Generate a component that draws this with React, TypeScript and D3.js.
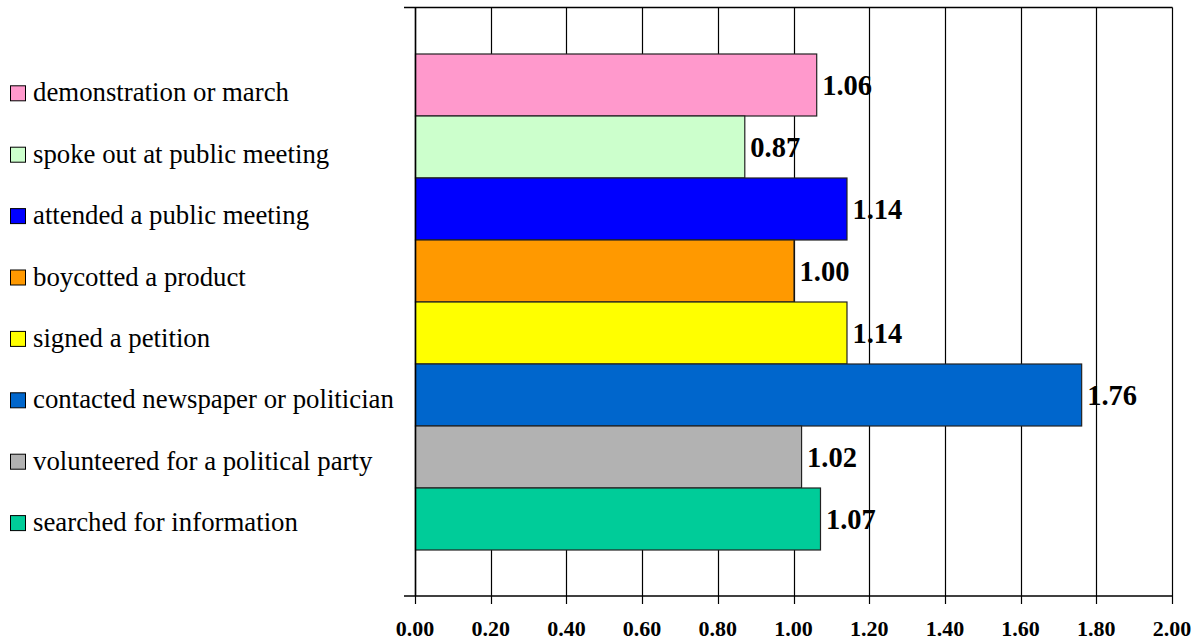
import React from "react";
import * as d3 from "d3";

// Activity ratios, listed top to bottom as drawn
const activities = [
  "demonstration or march",
  "spoke out at public meeting",
  "attended a public meeting",
  "boycotted a product",
  "signed a petition",
  "contacted newspaper or politician",
  "volunteered for a political party",
  "searched for information",
];
const ratios = [1.06, 0.87, 1.14, 1.0, 1.14, 1.76, 1.02, 1.07];
const colors = [
  "#FF99CC",
  "#CCFFCC",
  "#0000FF",
  "#FF9900",
  "#FFFF00",
  "#0066CC",
  "#B2B2B2",
  "#00CC99",
];
const tickValues = [0, 0.2, 0.4, 0.6, 0.8, 1.0, 1.2, 1.4, 1.6, 1.8, 2.0];

const W = 1199;
const H = 641;
const plot = { left: 415, right: 1172, top: 7.5, bottom: 596 };
const FONT = "'Liberation Serif', 'Times New Roman', serif";

export default function App() {
  const x = d3.scaleLinear().domain([0, 2]).range([plot.left, plot.right]);
  const y = d3.scaleBand<string>().domain(activities).range([54, 550]).padding(0);
  const legendY = d3
    .scalePoint<string>()
    .domain(activities)
    .range([93.3, 93.3 + 7 * 61.4]);

  return (
    <svg
      width={W}
      height={H}
      style={{ position: "fixed", left: 0, top: 0, background: "#fff" }}
      fontFamily={FONT}
    >
      {/* vertical gridlines */}
      {tickValues.map((t) => (
        <line
          key={"g" + t}
          x1={Math.round(x(t)) + 0.5}
          x2={Math.round(x(t)) + 0.5}
          y1={plot.top}
          y2={plot.bottom}
          stroke="#000"
          strokeWidth={1.2}
        />
      ))}
      {/* top border with outer tick */}
      <line x1={404} x2={plot.right + 0.5} y1={plot.top} y2={plot.top} stroke="#000" strokeWidth={1.5} />

      {/* bars */}
      {activities.map((a, i) => (
        <rect
          key={a}
          x={x(0) + 0.5}
          y={y(a)!}
          width={x(ratios[i]) - x(0)}
          height={y.bandwidth()}
          fill={colors[i]}
          stroke="#222"
          strokeWidth={1.2}
        />
      ))}

      {/* axes */}
      <line x1={plot.left + 0.5} x2={plot.left + 0.5} y1={plot.top} y2={plot.bottom} stroke="#000" strokeWidth={1.5} />
      <line x1={404} x2={plot.right + 0.5} y1={plot.bottom} y2={plot.bottom} stroke="#000" strokeWidth={1.5} />
      {tickValues.map((t) => (
        <line
          key={"t" + t}
          x1={Math.round(x(t)) + 0.5}
          x2={Math.round(x(t)) + 0.5}
          y1={plot.bottom}
          y2={plot.bottom + 8}
          stroke="#000"
          strokeWidth={1.2}
        />
      ))}
      {tickValues.map((t) => (
        <text
          key={"l" + t}
          x={x(t)}
          y={636}
          textAnchor="middle"
          fontSize={22}
          fontWeight="bold"
          fill="#000"
        >
          {t.toFixed(2)}
        </text>
      ))}

      {/* value labels */}
      {activities.map((a, i) => (
        <text
          key={"v" + a}
          x={x(ratios[i]) + 6}
          y={y(a)! + y.bandwidth() / 2 + 10}
          fontSize={28.5}
          fontWeight="bold"
          fill="#000"
        >
          {ratios[i].toFixed(2)}
        </text>
      ))}

      {/* legend */}
      {activities.map((a, i) => (
        <g key={"lg" + a} transform={`translate(0,${legendY(a)})`}>
          <rect x={10.5} y={-7.5} width={15} height={15} fill={colors[i]} stroke="#000" strokeWidth={1} />
          <text x={33} y={8} fontSize={26.8} fill="#000">
            {a}
          </text>
        </g>
      ))}
    </svg>
  );
}
